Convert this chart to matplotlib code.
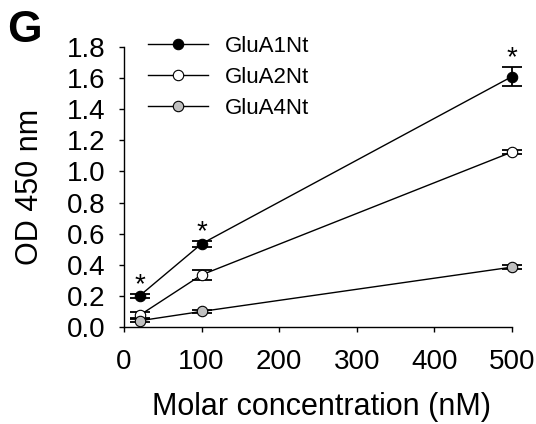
import matplotlib
matplotlib.use("Agg")
import matplotlib.pyplot as plt

plt.rcParams['font.family'] = ['Liberation Sans', 'DejaVu Sans']

conc = [20, 100, 500]
glua1 = [0.20, 0.535, 1.61]
glua1_err = [0.015, 0.02, 0.06]
glua2 = [0.075, 0.335, 1.125]
glua2_err = [0.02, 0.03, 0.01]
glua4 = [0.04, 0.10, 0.385]
glua4_err = [0.01, 0.01, 0.015]
yticks = [0.0, 0.2, 0.4, 0.6, 0.8, 1.0, 1.2, 1.4, 1.6, 1.8]
xticks = [0, 100, 200, 300, 400, 500]

fig = plt.figure(figsize=(5.36, 4.24), dpi=100)
ax = fig.add_axes([124 / 536, 1 - 327 / 424, 388 / 536, 280 / 424])

series = [
    ("GluA1Nt", glua1, glua1_err, "black"),
    ("GluA2Nt", glua2, glua2_err, "white"),
    ("GluA4Nt", glua4, glua4_err, "#c0c0c0"),
]
for label, vals, err, fc in series:
    ax.errorbar(conc, vals, yerr=err, fmt="none", ecolor="black",
                elinewidth=1.3, capsize=7, capthick=1.3, clip_on=False, zorder=2)
    ax.plot(conc, vals, color="black", lw=1.0, marker="o", markersize=7.5,
            markerfacecolor=fc, markeredgecolor="black", markeredgewidth=0.8,
            label=label, clip_on=False, zorder=3)

# significance stars above GluA1Nt
for x, v, e in zip(conc, glua1, glua1_err):
    ax.annotate("*", (x, v + e), xytext=(0, -3), textcoords="offset points",
                ha="center", va="bottom", fontsize=20)

ax.set_xlim(0, 500)
ax.set_ylim(0, 1.8)
ax.set_xticks(xticks)
ax.set_yticks(yticks)
ax.set_yticklabels([f"{t:.1f}" for t in yticks])
ax.tick_params(direction="out", length=3.6, width=1, labelsize=20)
ax.tick_params(axis="x", pad=12)
ax.tick_params(axis="y", pad=10)
for s in ["top", "right"]:
    ax.spines[s].set_visible(False)
for s in ["left", "bottom"]:
    ax.spines[s].set_linewidth(1)

ax.set_xlabel("Molar concentration (nM)", fontsize=22)
ax.set_ylabel("OD 450 nm", fontsize=22)
ax.xaxis.set_label_coords(0.509, -0.232)
ax.yaxis.set_label_coords(-0.204, 0.5)

ax.legend(loc="upper left", bbox_to_anchor=(148 / 536, 1 - 36 / 424),
          bbox_transform=fig.transFigure, frameon=False, fontsize=16,
          handlelength=2.7, handletextpad=0.75, labelspacing=0.45,
          borderpad=0, borderaxespad=0)

fig.text(7 / 536, 1 - 30 / 424, "G", fontsize=32, fontweight="bold",
         ha="left", va="center")

fig.savefig("out.png", dpi=100)
